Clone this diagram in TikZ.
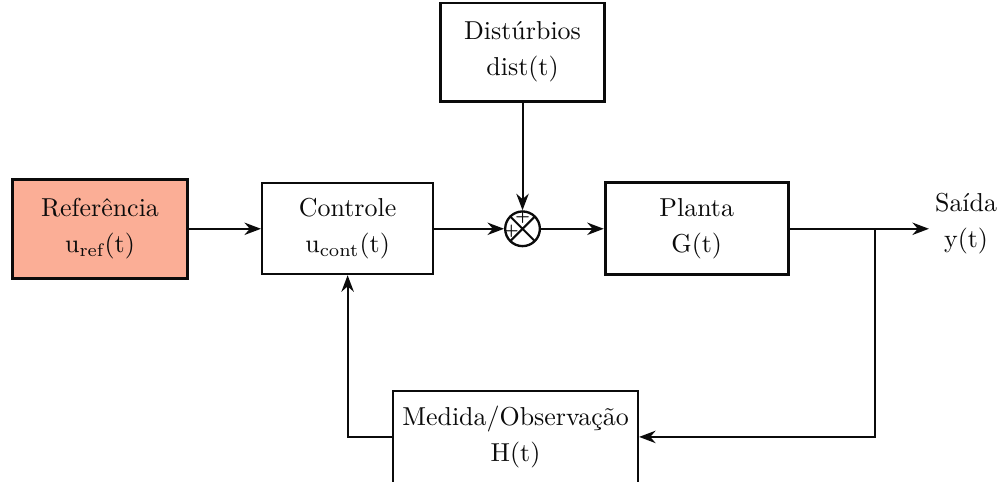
\documentclass[tikz,border=0pt]{standalone}
\usetikzlibrary{arrows.meta,positioning,calc}
\definecolor{ink}{HTML}{0B0B0B}
\definecolor{salmon}{HTML}{FBAE96}

\begin{document}
\begin{tikzpicture}[
  font=\normalsize, >=Stealth, line width=0.75pt,
  blk/.style={draw=ink, align=center, inner sep=3pt, text=ink},
  heavy/.style={blk, line width=1.1pt},
  sumj/.style={draw=ink, circle, minimum size=4.7mm, inner sep=0pt, line width=0.9pt,
    path picture={\draw[line width=0.8pt] (path picture bounding box.north west) -- (path picture bounding box.south east)
      (path picture bounding box.north east) -- (path picture bounding box.south west);}},
  sgn/.style={font=\tiny, inner sep=0pt, text=ink},
  arr/.style={->, draw=ink}]
\useasboundingbox (0,0) rectangle (13.59,-6.518);

% forward path
\node[heavy, fill=salmon, minimum width=2.38cm, minimum height=1.34cm] (ref) at (1.355,-3.1) {Referência\\[2pt]u\textsubscript{ref}(t)};
\node[blk, line width=0.8pt, minimum width=2.32cm, minimum height=1.23cm] (ctrl) at (4.71,-3.1) {Controle\\[2pt]u\textsubscript{cont}(t)};
\node[sumj] (sum) at (7.08,-3.1) {};
\node[sgn] (plusT) at ([yshift=1.5mm]sum.center) {\textbf{+}};
\node[sgn] (plusL) at ([xshift=-1.5mm,yshift=-0.3mm]sum.center) {\textbf{+}};
\node[heavy, minimum width=2.48cm, minimum height=1.25cm] (plant) at (9.44,-3.1) {Planta\\[2pt]G(t)};
\node[text=ink, align=center, inner sep=2pt] (out) at (13.09,-3.03) {Saída\\[2pt]y(t)};
\draw[arr] (ref) -- (ctrl);
\draw[arr] (ctrl) -- (sum);
\draw[arr] (sum) -- (plant);
\draw[arr] (plant.east) -- (plant.east -| out.west);

% disturbance
\node[heavy, minimum width=2.22cm, minimum height=1.33cm] (dist) at (7.08,-0.705) {Distúrbios\\[2pt]dist(t)};
\draw[arr] (dist) -- (sum);

% feedback
\coordinate (branch) at (11.86,-3.1);
\node[blk, line width=0.8pt, minimum width=3.32cm, minimum height=1.25cm] (meas) at (6.985,-5.92) {Medida/Observação\\[2pt]H(t)};
\draw[arr] (branch) |- (meas.east);
\draw[arr] (meas.west) -| (ctrl.south);
\end{tikzpicture}
\end{document}
